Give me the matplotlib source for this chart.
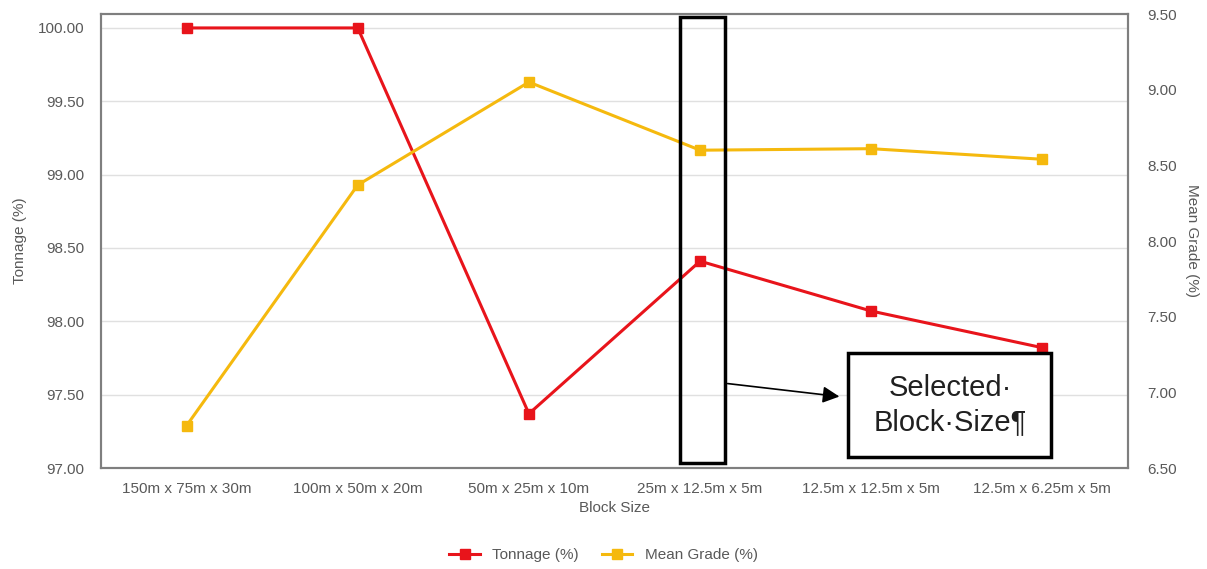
import numpy as np
import matplotlib.pyplot as plt
from matplotlib.patches import Rectangle

plt.rcParams['font.family'] = ['Liberation Sans', 'DejaVu Sans']

block_sizes = ["150m x 75m x 30m", "100m x 50m x 20m", "50m x 25m x 10m",
               "25m x 12.5m x 5m", "12.5m x 12.5m x 5m", "12.5m x 6.25m x 5m"]
tonnage = [100.00, 100.00, 97.37, 98.41, 98.07, 97.82]
mean_grade = [6.78, 8.37, 9.05, 8.60, 8.61, 8.54]

left_ticks = np.arange(97.0, 100.01, 0.5)
right_ticks = np.arange(6.5, 9.51, 0.5)

txt = "#595959"
red = "#e8141b"
gold = "#f5b90e"

fig = plt.figure(figsize=(12.07, 5.69), dpi=100)
ax = fig.add_axes([101/1207, 1 - 468/569, 1027/1207, 454/569])
ax2 = ax.twinx()

x = np.arange(len(block_sizes))
l1, = ax.plot(x, tonnage, color=red, lw=2.2, marker="s", ms=7, label="Tonnage (%)", zorder=3)
l2, = ax2.plot(x, mean_grade, color=gold, lw=2.2, marker="s", ms=7, label="Mean Grade (%)", zorder=3)

ax.set_xlim(-0.5, len(block_sizes) - 0.5)
ax.set_ylim(97.0, 100.095)
ax.set_yticks(left_ticks)
ax.set_yticklabels([f"{v:.2f}" for v in left_ticks])
ax2.set_ylim(6.5, 9.5)
ax2.set_yticks(right_ticks)
ax2.set_yticklabels([f"{v:.2f}" for v in right_ticks])
ax.set_xticks(x)
ax.set_xticklabels(block_sizes)

ax.grid(axis="y", color="#e0e0e0", lw=1)
ax.set_axisbelow(True)
for a in (ax, ax2):
    a.tick_params(length=0, labelsize=11, colors=txt)
    for s in a.spines.values():
        s.set_color("#7f7f7f")
        s.set_linewidth(1.5)
ax.tick_params(axis="y", pad=12)
ax.tick_params(axis="x", pad=10)
ax2.tick_params(axis="y", pad=14)

ax.set_xlabel("Block Size", fontsize=11, color=txt, labelpad=4)
ax.set_ylabel("Tonnage (%)", fontsize=11, color=txt, labelpad=8)
ax2.set_ylabel("Mean Grade (%)", fontsize=11, color=txt, rotation=270, labelpad=16)

# selected block size highlight
ax2.add_patch(Rectangle((2.88, 6.53), 0.265, 2.95, fill=False, ec="black", lw=2.5, zorder=5))
ax2.annotate("", xy=(3.83, 6.97), xytext=(3.145, 7.06),
             arrowprops=dict(arrowstyle="-|>", color="black", lw=1.2, mutation_scale=25),
             zorder=5)
ax2.add_patch(Rectangle((3.866, 6.57), 1.185, 0.69, fc="white", ec="black", lw=2.5, zorder=6))
ax2.text(4.46, 6.915, "Selected·\nBlock·Size¶", fontsize=21, ha="center", va="center",
         color="#202020", linespacing=1.25, zorder=7)

fig.legend(handles=[l1, l2], loc="center", bbox_to_anchor=(0.5, 1 - 555/569), ncol=2,
           frameon=False, fontsize=11, labelcolor=txt, handlelength=2, columnspacing=1.5)

fig.savefig("out.png", dpi=100)
